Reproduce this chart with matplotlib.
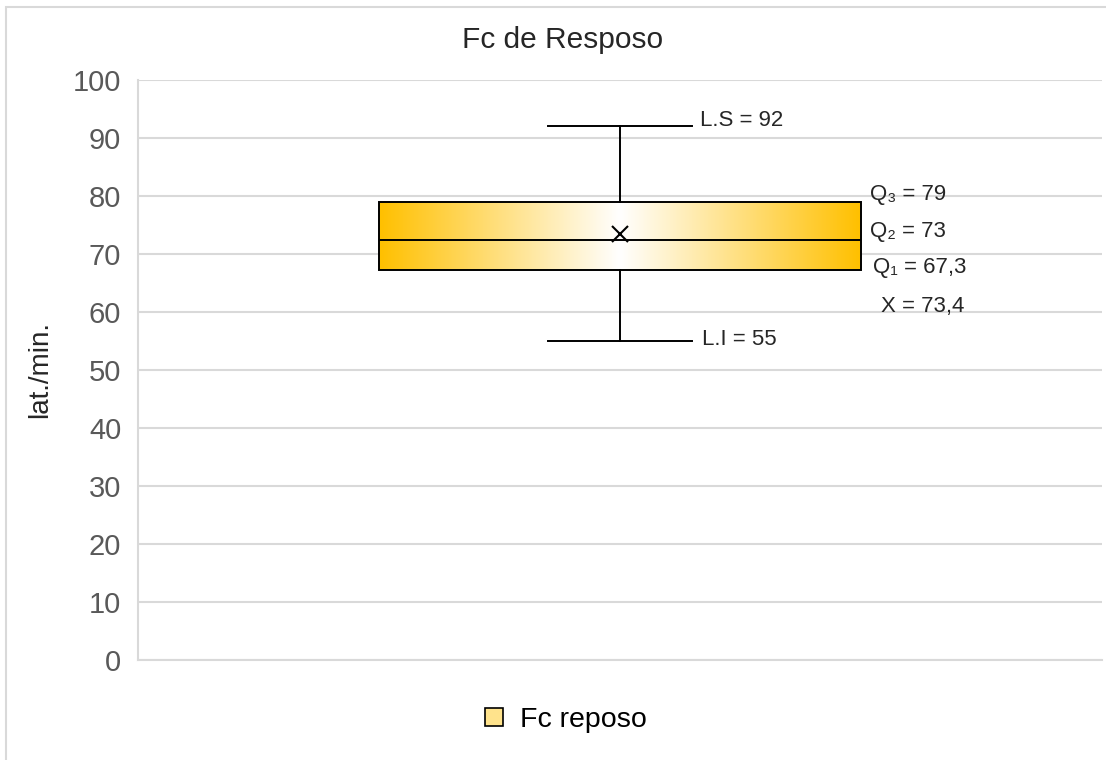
import numpy as np
import matplotlib
matplotlib.use("Agg")
import matplotlib.pyplot as plt
from matplotlib.colors import LinearSegmentedColormap
from matplotlib.patches import Patch, Rectangle

# box plot values (lat./min.)
serie = "Fc reposo"
lim_inf = 55
q1 = 67.3
mediana = 72.5
media = 73.4
q3 = 79
lim_sup = 92
rotulos = ["L.S = 92", "Q\u2083 = 79", "Q\u2082 = 73", "Q\u2081 = 67,3", "X = 73,4", "L.I = 55"]

plt.rcParams['font.family'] = ['Liberation Sans', 'DejaVu Sans']
cinza = '#595959'
grade = '#D9D9D9'

fig = plt.figure(figsize=(11.06, 7.6), dpi=100)
ax = fig.add_axes([138/1106, 1-660/760, 964/1106, 580/760])

# outer chart border
fig.patches.append(Rectangle((6/1106, -0.1), 1.2, 1.1 - 6.5/760, transform=fig.transFigure,
                             fill=False, edgecolor=grade, lw=1.5))

stats = [dict(med=mediana, q1=q1, q3=q3, whislo=lim_inf, whishi=lim_sup, mean=media, label=serie)]
bp = ax.bxp(stats, positions=[1], widths=0.5, capwidths=0.15, showmeans=True,
            patch_artist=True, showfliers=False,
            boxprops=dict(facecolor='none', edgecolor='black', lw=1.4),
            medianprops=dict(color='black', lw=1.4),
            whiskerprops=dict(color='black', lw=1.4),
            capprops=dict(color='black', lw=1.4),
            meanprops=dict(marker='x', markeredgecolor='black', markersize=11, markeredgewidth=1.5))
for art in bp['boxes'] + bp['medians'] + bp['whiskers'] + bp['caps'] + bp['means']:
    art.set_zorder(4)

# gradient fill inside box
cmap = LinearSegmentedColormap.from_list('grad', ['#FFC000', '#FFFFFF', '#FFC000'])
grad = np.linspace(0, 1, 256).reshape(1, -1)
img = ax.imshow(grad, cmap=cmap, aspect='auto', extent=[0.75, 1.25, q1, q3], zorder=3,
                interpolation='bicubic')
img.set_clip_path(bp['boxes'][0])

ax.set_xlim(0.5, 1.5)
ax.set_ylim(0, 100)
ax.set_yticks(np.arange(0, 101, 10))
ax.set_xticks([])
ax.grid(axis='y', color=grade, lw=1.5)
ax.set_axisbelow(True)
for s in ['top', 'right']:
    ax.spines[s].set_visible(False)
for s in ['left', 'bottom']:
    ax.spines[s].set_color(grade)
    ax.spines[s].set_linewidth(1.5)
ax.tick_params(axis='y', length=0, pad=12, labelsize=21, labelcolor=cinza)

ax.set_ylabel("lat./min.", fontsize=20, color='#262626', labelpad=14)
fig.text(563/1106, 1-40/760, "Fc de Resposo", ha='center', va='center', fontsize=21.5, color='#262626')

# annotations
pos = [(1.083, 93.1), (1.259, 80.2), (1.259, 73.8), (1.262, 67.6), (1.271, 60.9), (1.085, 55.2)]
for (x, y), t in zip(pos, rotulos):
    ax.text(x, y, t, ha='left', va='center', fontsize=16, color='#262626')

handle = Patch(facecolor='#FFE38C', edgecolor='black', lw=1.2)
fig.legend([handle], [serie], loc='center', bbox_to_anchor=(566/1106, 1-720/760),
           frameon=False, fontsize=20.5, handlelength=0.6, handleheight=0.6, handletextpad=0.6)

fig.savefig("out.png", dpi=100)
